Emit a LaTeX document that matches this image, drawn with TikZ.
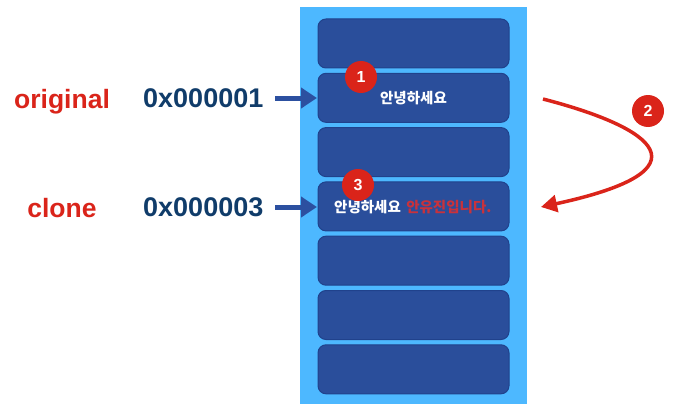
\documentclass[tikz,border=0pt]{standalone}
\usepackage{fontspec}
\setmainfont{Liberation Sans}
\newfontfamily\kor{Noto Sans CJK KR}
\usetikzlibrary{arrows.meta}
\definecolor{colblue}{RGB}{77,184,255}
\definecolor{slotblue}{RGB}{42,78,155}
\definecolor{slotedge}{RGB}{32,66,140}
\definecolor{redc}{RGB}{218,36,26}
\definecolor{redtext}{RGB}{200,50,60}
\definecolor{navy}{RGB}{16,60,106}
\definecolor{arrblue}{RGB}{44,80,160}
\tikzset{
  slot/.style={draw=slotedge, line width=1pt, fill=slotblue, rounded corners=8pt, minimum width=191pt, minimum height=49pt, inner sep=0pt},
  badge/.style={circle, fill=redc, minimum size=32pt, inner sep=0pt, text=white, font=\bfseries\fontsize{16}{16}\selectfont},
  varname/.style={text=redc, font=\bfseries\fontsize{26.5}{28}\selectfont, inner sep=0pt},
  addr/.style={text=navy, font=\bfseries\fontsize{27}{28}\selectfont, inner sep=0pt},
  ptr/.style={arrblue, line width=5pt, -{Triangle[length=16pt,width=20pt]}},
  kortext/.style={text=white, font=\kor\bfseries\fontsize{14.5}{15}\selectfont, inner sep=0pt}
}
\begin{document}
\begin{tikzpicture}[x=1pt,y=-1pt]
\useasboundingbox (0,0) rectangle (677,412);
\fill[white] (0,0) rectangle (677,412);
\node[fill=colblue, minimum width=227pt, minimum height=397pt, inner sep=0pt, anchor=north west] (col) at (300,7) {};
\foreach \i in {1,...,7}{
  \node[slot] (s\i) at (413.5, {43.5+(\i-1)*54.3}) {};
}
\node[kortext] (t1) at (s2.center) {안녕하세요};
\node[kortext, anchor=west] (t2) at (334,207) {안녕하세요};
\node[kortext, anchor=west, text=redtext] (t3) at (t2.east) {\hspace{5pt}안유진입니다.};
\node[varname] (orig) at (62,102) {original};
\node[varname] (clone) at (62,208) {clone};
\node[addr, anchor=west] (a1) at (143,98.5) {0x000001};
\node[addr, anchor=west] (a2) at (143,207) {0x000003};
\coordinate (p1s) at (275,98);
\coordinate (p1e) at (317,98);
\coordinate (p2s) at (275,207);
\coordinate (p2e) at (317,207);
\draw[ptr] (p1s) -- (p1e);
\draw[ptr] (p2s) -- (p2e);
\node[badge] (b1) at (361,77) {1};
\node[badge] (b3) at (358,185) {3};
\node[badge] (b2) at (648,111) {2};
\coordinate (cs) at (543,99);
\coordinate (ce) at (541,207);
\draw[redc, line width=3.5pt, -{Triangle[length=16pt,width=17pt]}] (cs) .. controls (655,128) and (712,170) .. (ce);
\end{tikzpicture}
\end{document}
